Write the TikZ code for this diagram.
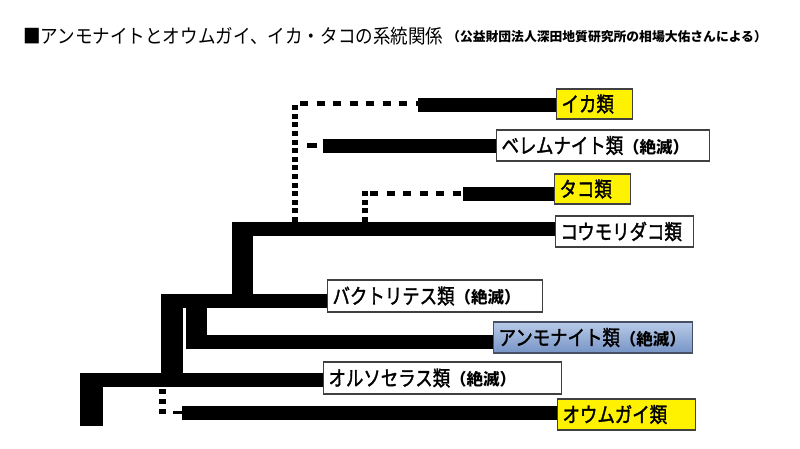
\documentclass[tikz,border=0pt]{standalone}
\usepackage{fontspec}
\setmainfont{Noto Sans CJK JP}
\newfontfamily\taxonfam{Noto Sans CJK JP}[FakeStretch=0.83, FakeBold=1.6]
\newfontfamily\titlefam{Noto Sans CJK JP}[FakeStretch=0.9]
\usepackage{xcolor}
\definecolor{boxgrey}{RGB}{64, 64, 64}
\definecolor{ammotop}{RGB}{185, 203, 232}
\definecolor{ammobot}{RGB}{118, 148, 198}
\definecolor{ammoline}{RGB}{70, 80, 100}
\usepackage{tikz}
\usetikzlibrary{
  arrows.meta,
  positioning,
  calc
}
\newcommand{\labelfont}{\taxonfam\fontsize{21pt}{22pt}\selectfont}
\newcommand{\zetsu}{{\normalfont\fontsize{16.5pt}{17pt}\selectfont\bfseries （絶滅）}}

\begin{document}
\begin{tikzpicture}[x=1pt, y=-1pt,
  bar/.style={line width=14pt, line cap=butt},
  stem/.style={line width=21pt, line cap=butt},
  dots/.style={line width=6pt, dash pattern=on 5pt off 3.6pt},
  dashes/.style={line width=5pt, dash pattern=on 8pt off 8.5pt},
  taxon/.style={draw=boxgrey, line width=1.1pt, fill=white, inner xsep=5pt, inner ysep=0pt,
    minimum height=31pt, anchor=west, align=left, font=\labelfont},
  extant/.style={taxon, fill=yellow},
  extinct/.style={taxon}
]

  % page
  \useasboundingbox (0,0) rectangle (800,449);
  \fill[white] (0,0) rectangle (800,449);

  % title
  \node[anchor=west, inner sep=0pt, font=\titlefam\fontsize{19.5pt}{21pt}\selectfont] (title) at (23,36.5)
    {■アンモナイトとオウムガイ、イカ・タコの系統関係};
  \node[anchor=west, inner sep=0pt, font=\fontsize{12.8pt}{14pt}\selectfont\bfseries] (credit) at (447,36.5)
    {（公益財団法人深田地質研究所の相場大佑さんによる）};

  % taxa
  \node[extant, text width=66pt, minimum height=30pt] (ika) at (556,104) {イカ類};
  \node[extinct, text width=203pt] (belem) at (496,145.5) {ベレムナイト類\zetsu};
  \node[extant, text width=66pt, minimum height=30pt] (tako) at (554,189) {タコ類};
  \node[extinct, text width=128pt] (vampyro) at (555,231.5) {コウモリダコ類};
  \node[extinct, text width=205pt, minimum height=32pt] (bactri) at (327,296) {バクトリテス類\zetsu};
  \node[extinct, draw=ammoline, top color=ammotop, bottom color=ammobot, text width=189pt] (ammo) at (493,337.5) {アンモナイト類\zetsu};
  \node[extinct, text width=228pt, minimum height=32pt] (ortho) at (323,378) {オルソセラス類\zetsu};
  \node[extant, text width=128pt] (nauti) at (557,414.5) {オウムガイ類};

  % branch points
  \coordinate (rootB) at (91.5,426);
  \coordinate (rootT) at (91.5,373);
  \coordinate (orthoS) at (80,380);
  \coordinate (cephB) at (172,380);
  \coordinate (cephT) at (172,294);
  \coordinate (bactriS) at (161,301);
  \coordinate (ammoB) at (196.5,349);
  \coordinate (ammoT) at (196.5,308);
  \coordinate (ammoS) at (186,342);
  \coordinate (coleoB) at (242.5,301);
  \coordinate (coleoT) at (242.5,222);
  \coordinate (vampyroS) at (232,229);

  % solid stems and bars
  \draw[stem, line width=23pt] (rootB) -- (rootT);
  \draw[bar] (orthoS) -- (orthoS -| ortho.west);
  \draw[stem, line width=22pt] (cephB) -- (cephT);
  \draw[bar] (bactriS) -- (bactriS -| bactri.west);
  \draw[stem] (ammoB) -- (ammoT);
  \draw[bar] (ammoS) -- (ammoS -| ammo.west);
  \draw[stem] (coleoB) -- (coleoT);
  \draw[bar] (vampyroS) -- (vampyroS -| vampyro.west);

  % squid and belemnites (dotted ghost lineage)
  \coordinate (ikaB) at (295,222);
  \coordinate (ikaK) at (295,102);
  \coordinate (ikaD) at (300,104);
  \coordinate (ikaS) at (418,105);
  \draw[dots] (ikaB) -- (ikaK);
  \draw[dashes] (ikaD) -- (ikaS |- ikaD);
  \draw[bar] (ikaS) -- (ikaS -| ika.west);
  \coordinate (belemD) at (307,146);
  \coordinate (belemS) at (323,146);
  \draw[line width=5pt, dash pattern=on 10pt off 6pt] (belemD) -- (belemS);
  \draw[bar] (belemS) -- (belemS -| belem.west);

  % octopus
  \coordinate (takoB) at (365,222);
  \coordinate (takoK) at (365,191);
  \coordinate (takoD) at (370,194);
  \coordinate (takoS) at (463,194);
  \draw[dots] (takoB) -- (takoK);
  \draw[dashes] (takoD) -- (takoS);
  \draw[bar] (takoS) -- (takoS -| tako.west);

  % nautilus
  \coordinate (nautiT) at (162.5,389);
  \coordinate (nautiB) at (162.5,416);
  \coordinate (nautiD) at (173,412.5);
  \coordinate (nautiS) at (182,413);
  \draw[line width=7pt, dash pattern=on 5pt off 5pt] (nautiT) -- (nautiB);
  \draw[line width=3pt] (nautiD) -- (nautiS |- nautiD);
  \draw[bar] (nautiS) -- (nautiS -| nauti.west);
\end{tikzpicture}
\end{document}
